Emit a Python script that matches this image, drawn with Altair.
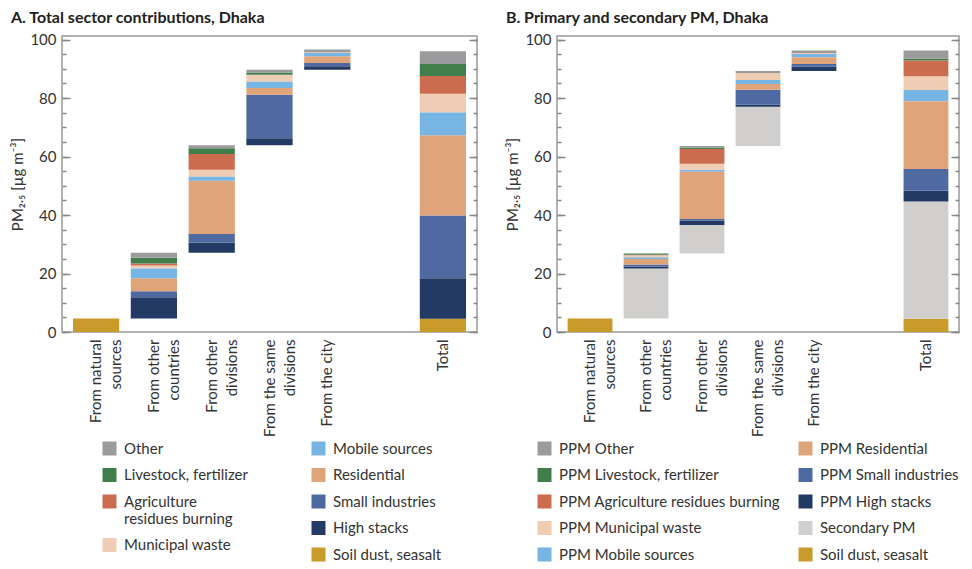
import altair as alt
import pandas as pd

FONT = "Lato"
TXT = "#333333"

sources = ["From natural sources", "From other countries", "From other divisions",
           "From the same divisions", "From the city", "Total"]
source_label_lines = {
    "From natural sources": ["From natural", "sources"],
    "From other countries": ["From other", "countries"],
    "From other divisions": ["From other", "divisions"],
    "From the same divisions": ["From the same", "divisions"],
}
gap = " "
x_domain = sources[:5] + [gap] + sources[5:]

# ---- Panel A: sectors in stacking order (bottom -> top)
sectors_a = ["Soil dust, seasalt", "High stacks", "Small industries", "Residential",
             "Mobile sources", "Municipal waste", "Agriculture residues burning",
             "Livestock, fertilizer", "Other"]
colors_a = ["#c99b2b", "#233a65", "#4e6aa0", "#dfa47a", "#76b5e4", "#eecdb4",
            "#cc6c4e", "#427e4c", "#9b9b9e"]
a_natural = [4.6, 0, 0, 0, 0, 0, 0, 0, 0]
a_countries = [0, 7.3, 2.0, 4.5, 3.3, 1.0, 0.7, 2.0, 1.7]
a_divisions = [0, 3.4, 3.0, 18.2, 1.35, 2.4, 5.4, 2.0, 1.0]
a_same = [0, 2.4, 14.9, 2.3, 2.1, 2.4, 0, 0.8, 0.9]
a_city = [0, 1.25, 1.1, 2.25, 1.1, 0.3, 0, 0, 0.9]
a_total = [4.5, 13.85, 21.5, 27.4, 7.8, 6.4, 6.1, 4.05, 4.4]
legend_a_left = ["Other", "Livestock, fertilizer", "Agriculture residues burning", "Municipal waste"]
legend_a_right = ["Mobile sources", "Residential", "Small industries", "High stacks", "Soil dust, seasalt"]

# ---- Panel B
sectors_b = ["Soil dust, seasalt", "Secondary PM", "PPM High stacks", "PPM Small industries",
             "PPM Residential", "PPM Mobile sources", "PPM Municipal waste",
             "PPM Agriculture residues burning", "PPM Livestock, fertilizer", "PPM Other"]
colors_b = ["#c99b2b", "#d0cfce", "#233a65", "#4e6aa0", "#dfa47a", "#76b5e4", "#eecdb4",
            "#cc6c4e", "#427e4c", "#9b9b9e"]
b_natural = [4.6, 0, 0, 0, 0, 0, 0, 0, 0, 0]
b_countries = [0, 17.1, 0.7, 0.7, 1.9, 0.55, 0.7, 0.2, 0.35, 0]
b_divisions = [0, 9.8, 1.45, 0.55, 16.2, 0.7, 2.0, 5.1, 0.45, 0.55]
b_same = [0, 13.4, 0.7, 5.1, 2.0, 1.35, 2.4, 0, 0, 0.7]
b_city = [0, 0, 1.45, 0.9, 2.35, 1.1, 0.3, 0, 0, 0.9]
b_total = [4.5, 40.1, 3.7, 7.4, 23.2, 3.8, 4.7, 5.4, 0.7, 2.7]
legend_b_left = ["PPM Other", "PPM Livestock, fertilizer", "PPM Agriculture residues burning",
                 "PPM Municipal waste", "PPM Mobile sources"]
legend_b_right = ["PPM Residential", "PPM Small industries", "PPM High stacks",
                  "Secondary PM", "Soil dust, seasalt"]

major_ticks = [0, 20, 40, 60, 80, 100]
minor_ticks = list(range(0, 101, 5))


def waterfall(sectors, rows):
    recs = []
    base = 0.0
    for src, vals in zip(sources, rows):
        y = 0.0 if src == "Total" else base
        for sec, v in zip(sectors, vals):
            if v > 0:
                recs.append(dict(source=src, sector=sec, y0=y, y1=y + v))
            y += v
        if src != "Total":
            base = y
    return pd.DataFrame(recs)


def x_label_expr():
    expr = "datum.label"
    for k, lines in source_label_lines.items():
        arr = "[" + ", ".join("'" + l + "'" for l in lines) + "]"
        expr = f"datum.label == '{k}' ? {arr} : ({expr})"
    return expr


wrap_expr = ("datum.label == 'Agriculture residues burning' ? "
             "['Agriculture', 'residues burning'] : datum.label")

LEG_Y = 405


def legend(lx, wrap=False):
    kw = dict(orient="none", legendX=lx, legendY=LEG_Y, title=None, direction="vertical",
              symbolType="square", symbolSize=196, symbolStrokeWidth=0, symbolOpacity=1,
              labelFont=FONT, labelFontSize=15, labelColor=TXT, labelOffset=7,
              rowPadding=10.5, padding=0, labelLimit=400)
    if wrap:
        kw["labelExpr"] = wrap_expr
    return alt.Legend(**kw)


def panel(df, sectors, colors, left_items, right_items, title, width, lxl, lxr, wrap):
    cmap = dict(zip(sectors, colors))
    x_axis = alt.Axis(title=None, labelAngle=270, labelAlign="right", labelBaseline="middle",
                      ticks=False, domain=False, labelPadding=7, labelFontSize=15,
                      labelFont=FONT, labelColor=TXT, labelLineHeight=20,
                      labelExpr=x_label_expr())
    x = alt.X("source:N", scale=alt.Scale(domain=x_domain, paddingInner=0.2, paddingOuter=0.19),
              axis=x_axis, title=None)
    y_scale = alt.Scale(domain=[0, 101.2], nice=False, zero=True)

    def ax(orient, vals, size, labels=False, title_=None):
        kw = dict(orient=orient, values=vals, tickSize=size, offset=-size, domain=False,
                  grid=False, tickColor="#888888", tickWidth=1.5, labels=labels)
        if labels:
            kw.update(labelPadding=6, labelFontSize=15, labelFont=FONT, labelColor=TXT)
        if title_:
            kw.update(title=title_, titleFontSize=15, titleFont=FONT, titleFontWeight="normal",
                      titleColor=TXT, titlePadding=4)
        else:
            kw.update(title=None)
        return alt.Axis(**kw)

    base = alt.Chart(df)

    def colored(items, yaxis, leg):
        return base.transform_filter(
            alt.FieldOneOfPredicate(field="sector", oneOf=items)
        ).mark_bar().encode(
            x=x,
            y=alt.Y("y0:Q", scale=y_scale, axis=yaxis),
            y2="y1:Q",
            color=alt.Color("sector:N",
                            scale=alt.Scale(domain=items, range=[cmap[s] for s in items]),
                            legend=leg),
        )

    l1 = colored(left_items, ax("left", major_ticks, 8, True, "PM₂.₅ [µg m⁻³]"),
                 legend(lxl, wrap))
    l2 = colored(right_items, ax("left", minor_ticks, 4), legend(lxr))
    l3 = base.mark_bar(opacity=0).encode(x=x, y=alt.Y("y0:Q", scale=y_scale,
                                                       axis=ax("right", major_ticks, 8)), y2="y1:Q")
    l4 = base.mark_bar(opacity=0).encode(x=x, y=alt.Y("y0:Q", scale=y_scale,
                                                       axis=ax("right", minor_ticks, 4)), y2="y1:Q")
    return alt.layer(l1, l2, l3, l4).resolve_scale(color="independent").resolve_axis(
        y="independent").properties(
        width=width, height=296,
        title=alt.TitleParams(title, anchor="start", frame="bounds", fontSize=16, font=FONT,
                              fontWeight="bold", color="#222222", offset=7))


df_a = waterfall(sectors_a, [a_natural, a_countries, a_divisions, a_same, a_city, a_total])
df_b = waterfall(sectors_b, [b_natural, b_countries, b_divisions, b_same, b_city, b_total])

pA = panel(df_a, sectors_a, colors_a, legend_a_left, legend_a_right,
           "A. Total sector contributions, Dhaka", 415, 40, 249, True)
pB = panel(df_b, sectors_b, colors_b, legend_b_left, legend_b_right,
           "B. Primary and secondary PM, Dhaka", 402, -20, 241, False)

chart = alt.hconcat(pA, pB, spacing=26).resolve_scale(color="independent").properties(
    padding={"left": 2, "top": 0, "right": 0, "bottom": 0}
).configure_view(stroke="#999999", strokeWidth=1.5).configure_axis(grid=False)

chart.save("out.html", embed_options={"renderer": "svg", "actions": False})
